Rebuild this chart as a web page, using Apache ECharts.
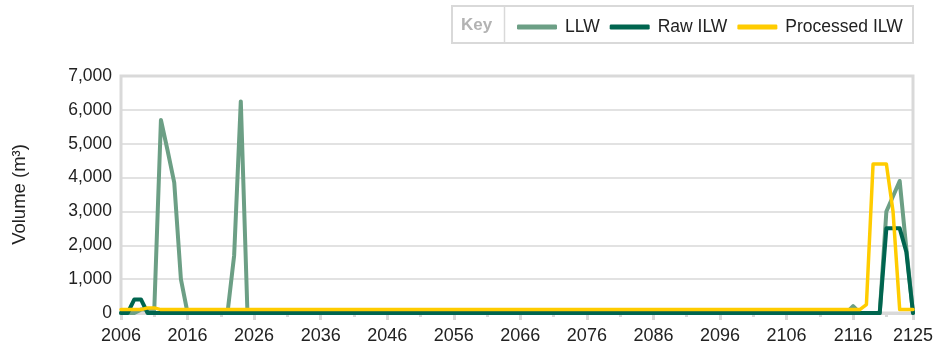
<!DOCTYPE html>
<html>
<head>
<meta charset="utf-8">
<style>
  html, body { margin: 0; padding: 0; background: #ffffff; }
  #chart { width: 950px; height: 349px; }
</style>
<script src="https://cdn.jsdelivr.net/npm/echarts@6/dist/echarts.min.js"></script>
</head>
<body>
<div id="chart"></div>
<script>
// Annual waste volumes (m³), one value per year 2006–2125, ten years per row.
const firstYear = 2006;
const lastYear = 2125;

const llw = [
  0, 0, 0, 100, 100, 100, 5700, 4800, 3850, 1000,      // 2006–2015
  0, 0, 0, 0, 0, 0, 0, 1700, 6250, 0,                  // 2016–2025
  0, 0, 0, 0, 0, 0, 0, 0, 0, 0,                        // 2026–2035
  0, 0, 0, 0, 0, 0, 0, 0, 0, 0,                        // 2036–2045
  0, 0, 0, 0, 0, 0, 0, 0, 0, 0,                        // 2046–2055
  0, 0, 0, 0, 0, 0, 0, 0, 0, 0,                        // 2056–2065
  0, 0, 0, 0, 0, 0, 0, 0, 0, 0,                        // 2066–2075
  0, 0, 0, 0, 0, 0, 0, 0, 0, 0,                        // 2076–2085
  0, 0, 0, 0, 0, 0, 0, 0, 0, 0,                        // 2086–2095
  0, 0, 0, 0, 0, 0, 0, 0, 0, 0,                        // 2096–2105
  0, 0, 0, 0, 0, 0, 0, 0, 0, 0,                        // 2106–2115
  200, 0, 0, 0, 0, 3000, 3450, 3900, 1900, 0           // 2116–2125
];

const rawIlw = [
  0, 0, 400, 400, 0, 0, 0, 0, 0, 0,                    // 2006–2015
  0, 0, 0, 0, 0, 0, 0, 0, 0, 0,                        // 2016–2025
  0, 0, 0, 0, 0, 0, 0, 0, 0, 0,                        // 2026–2035
  0, 0, 0, 0, 0, 0, 0, 0, 0, 0,                        // 2036–2045
  0, 0, 0, 0, 0, 0, 0, 0, 0, 0,                        // 2046–2055
  0, 0, 0, 0, 0, 0, 0, 0, 0, 0,                        // 2056–2065
  0, 0, 0, 0, 0, 0, 0, 0, 0, 0,                        // 2066–2075
  0, 0, 0, 0, 0, 0, 0, 0, 0, 0,                        // 2076–2085
  0, 0, 0, 0, 0, 0, 0, 0, 0, 0,                        // 2086–2095
  0, 0, 0, 0, 0, 0, 0, 0, 0, 0,                        // 2096–2105
  0, 0, 0, 0, 0, 0, 0, 0, 0, 0,                        // 2106–2115
  0, 0, 0, 0, 0, 2500, 2500, 2500, 1800, 0             // 2116–2125
];

const processedIlw = [
  100, 100, 100, 100, 150, 150, 100, 100, 100, 100,    // 2006–2015
  100, 100, 100, 100, 100, 100, 100, 100, 100, 100,    // 2016–2025
  100, 100, 100, 100, 100, 100, 100, 100, 100, 100,    // 2026–2035
  100, 100, 100, 100, 100, 100, 100, 100, 100, 100,    // 2036–2045
  100, 100, 100, 100, 100, 100, 100, 100, 100, 100,    // 2046–2055
  100, 100, 100, 100, 100, 100, 100, 100, 100, 100,    // 2056–2065
  100, 100, 100, 100, 100, 100, 100, 100, 100, 100,    // 2066–2075
  100, 100, 100, 100, 100, 100, 100, 100, 100, 100,    // 2076–2085
  100, 100, 100, 100, 100, 100, 100, 100, 100, 100,    // 2086–2095
  100, 100, 100, 100, 100, 100, 100, 100, 100, 100,    // 2096–2105
  100, 100, 100, 100, 100, 100, 100, 100, 100, 100,    // 2106–2115
  100, 100, 250, 4400, 4400, 4400, 3000, 100, 100, 100 // 2116–2125
];

// Labelled x ticks, and the shorter in-between ticks
const xTickLabels = [2006, 2016, 2026, 2036, 2046, 2056, 2066, 2076, 2086, 2096, 2106, 2116, 2125];
const xMinorTicks = [2011, 2021, 2031, 2041, 2051, 2061, 2071, 2081, 2091, 2101, 2111, 2121];

const seriesNames = ['LLW', 'Raw ILW', 'Processed ILW'];
const seriesColors = ['#6c9f85', '#00654f', '#ffcc00'];
const seriesValues = [llw, rawIlw, processedIlw];

const years = [];
for (let y = firstYear; y <= lastYear; y++) years.push(y);

const FONT = '"Liberation Sans", Arial, Helvetica, sans-serif';
const GRID_GREY = '#d9d9d9';

const chart = echarts.init(document.getElementById('chart'), null, { renderer: 'canvas' });

chart.setOption({
  animation: false,
  backgroundColor: '#ffffff',
  textStyle: { fontFamily: FONT },
  grid: {
    left: 121, right: 37, top: 76, bottom: 36,
    show: true, borderColor: GRID_GREY, borderWidth: 3
  },
  legend: {
    data: seriesNames,
    left: 512, top: 13,
    itemWidth: 40, itemHeight: 5, itemGap: 10,
    icon: 'roundRect',
    selectedMode: false,
    textStyle: { fontFamily: FONT, fontSize: 17.5, color: '#222222', padding: [0, 0, 0, 3] }
  },
  graphic: [
    {
      type: 'rect', silent: true, z: -1,
      shape: { x: 452, y: 6, width: 461, height: 37 },
      style: { fill: '#ffffff', stroke: GRID_GREY, lineWidth: 2 }
    },
    {
      type: 'line', silent: true,
      shape: { x1: 504.5, y1: 6, x2: 504.5, y2: 43 },
      style: { stroke: GRID_GREY, lineWidth: 1.5 }
    },
    {
      type: 'text', silent: true,
      left: 461, top: 17,
      style: { text: 'Key', font: 'bold 17px ' + FONT, fill: '#b3b3b3' }
    }
  ],
  xAxis: [
    {
      type: 'value', min: firstYear, max: lastYear,
      axisLine: { show: true, lineStyle: { color: GRID_GREY, width: 3 } },
      axisTick: { show: true, customValues: xTickLabels, length: 7, lineStyle: { color: GRID_GREY, width: 3 } },
      axisLabel: {
        customValues: xTickLabels, margin: 14,
        fontFamily: FONT, fontSize: 18, color: '#222222',
        formatter: v => String(v)
      },
      splitLine: { show: false }
    },
    {
      type: 'value', min: firstYear, max: lastYear, position: 'bottom',
      axisLine: { show: false },
      axisTick: { show: true, customValues: xMinorTicks, length: 4, lineStyle: { color: GRID_GREY, width: 3 } },
      axisLabel: { show: false },
      splitLine: { show: false }
    }
  ],
  yAxis: {
    type: 'value', min: 0, max: 7000, interval: 1000,
    name: 'Volume (m³)', nameLocation: 'middle', nameGap: 92,
    nameTextStyle: { fontFamily: FONT, fontSize: 18.5, color: '#222222' },
    axisLine: { show: false },
    axisTick: { show: false },
    axisLabel: { margin: 9, fontFamily: FONT, fontSize: 17.5, color: '#222222' },
    splitLine: { show: true, lineStyle: { color: GRID_GREY, width: 1.5 } }
  },
  series: seriesNames.map((name, i) => ({
    name: name,
    type: 'line',
    xAxisIndex: 0,
    symbol: 'none',
    color: seriesColors[i],
    lineStyle: { width: i === 2 ? 3.5 : 4, join: 'round', cap: 'round' },
    z: 2 + i,
    data: years.map((y, k) => [y, seriesValues[i][k]])
  }))
});
</script>
</body>
</html>
